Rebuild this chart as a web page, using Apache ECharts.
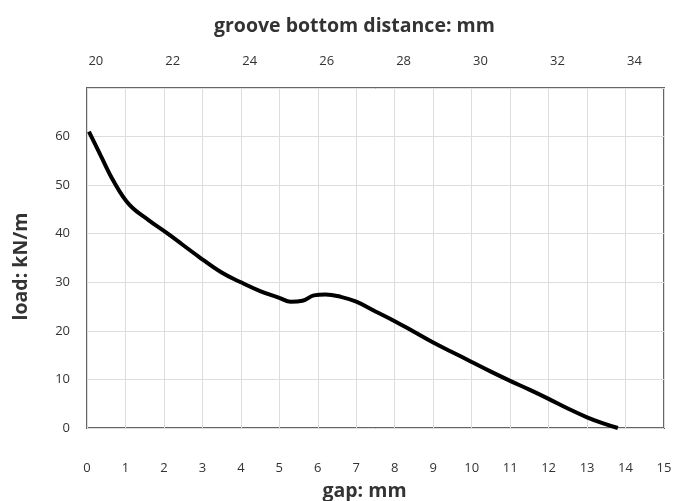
<!DOCTYPE html>
<html><head><meta charset="utf-8">
<script src="https://cdn.jsdelivr.net/npm/echarts@6/dist/echarts.min.js"></script>
<style>html,body{margin:0;padding:0;background:#fff}#c{width:677px;height:501px}</style>
</head><body><div id="c"></div>
<script>
const gap = [0.05,0.35,0.7,1.1,1.6,2.1,2.9,3.5,4.0,4.5,5.0,5.3,5.6,5.9,6.2,6.6,7.0,7.5,8.0,8.5,9.0,9.5,10.0,10.5,11.0,11.5,12.0,12.5,13.0,13.4,13.8];
const load = [61,56.2,50.7,46,42.8,40,35.3,32,30,28.2,26.8,26,26.2,27.3,27.5,27,26,24,22,19.8,17.6,15.6,13.6,11.6,9.7,7.9,6.0,4.0,2.2,1,0];
const grooveTicks = [20,22,24,26,28,30,32,34];
const F = "'Open Sans',sans-serif";
const chart = echarts.init(document.getElementById('c'));
chart.setOption({
  animation:false,
  title:{text:'groove bottom distance: mm',left:209,top:11,textStyle:{fontFamily:F,fontSize:19.5,fontWeight:'bold',color:'#333'}},
  grid:{left:87,right:13,top:88,bottom:73,containLabel:false,outerBoundsMode:'none',show:true,borderColor:'#666',borderWidth:2,backgroundColor:'#fff'},
  xAxis:[{
    type:'value',min:0,max:15,interval:1,position:'bottom',
    name:'gap: mm',nameLocation:'middle',nameGap:53,
    nameTextStyle:{fontFamily:F,fontSize:19.5,fontWeight:'bold',color:'#333',padding:[0,22,0,0]},
    axisLine:{show:false},axisTick:{show:false},
    axisLabel:{margin:34,fontFamily:F,fontSize:13,color:'#333'},
    splitLine:{show:true,lineStyle:{color:'#ddd',width:1}}
  },{
    type:'value',min:19.77,max:34.77,position:'top',
    axisLine:{show:false},axisTick:{show:false},
    axisLabel:{margin:20,fontFamily:F,fontSize:13,color:'#333',customValues:grooveTicks},
    splitLine:{show:false}
  }],
  yAxis:{
    type:'value',min:0,max:70,interval:10,
    name:'load: kN/m',nameLocation:'middle',nameGap:56,nameRotate:90,
    nameTextStyle:{fontFamily:F,fontSize:19.5,fontWeight:'bold',color:'#333',padding:[0,0,0,-17]},
    axisLine:{show:false},axisTick:{show:false},
    axisLabel:{margin:17,fontFamily:F,fontSize:13,color:'#333',formatter:v=>v===70?'':v},
    splitLine:{show:true,lineStyle:{color:'#ddd',width:1}}
  },
  series:[{type:'line',xAxisIndex:0,smooth:0.4,showSymbol:false,
    lineStyle:{color:'#000',width:4},
    data:gap.map((g,i)=>[g,load[i]])}]
});
</script></body></html>
